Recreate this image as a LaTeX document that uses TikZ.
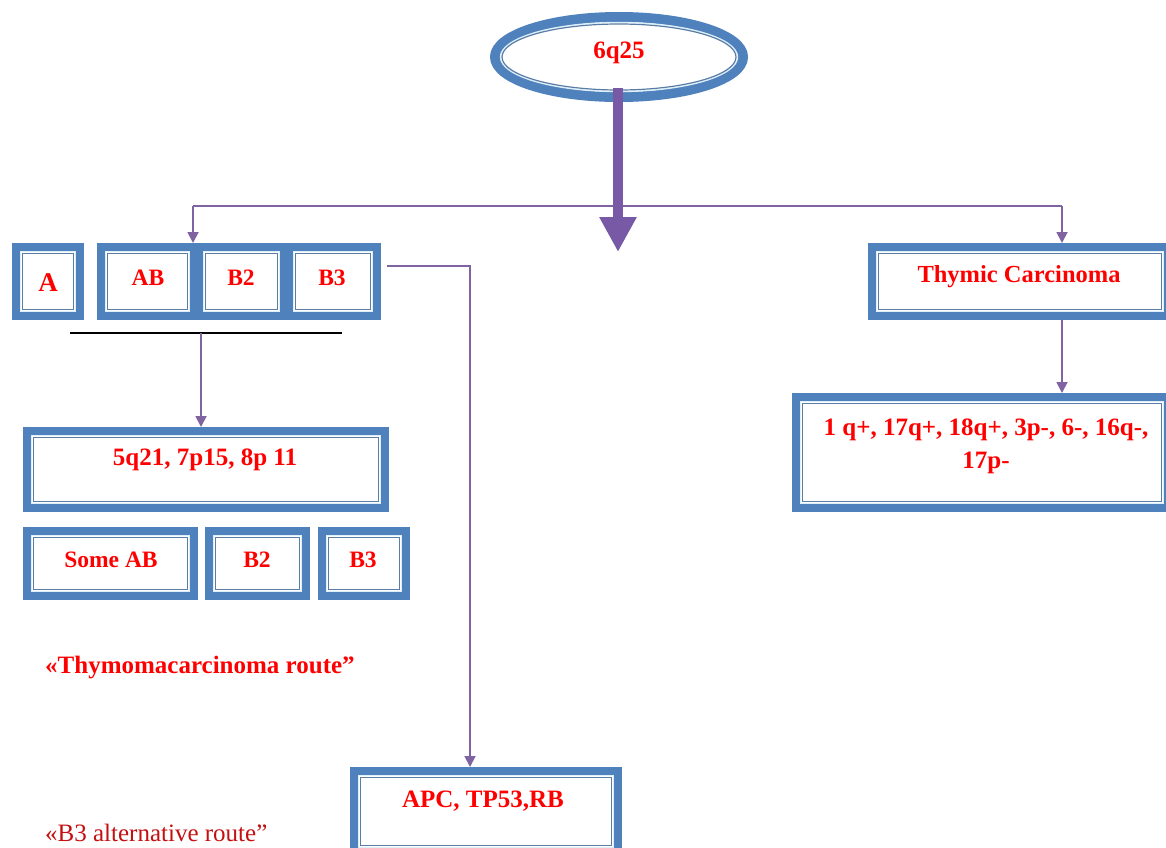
\documentclass[tikz,border=0pt]{standalone}
\usepackage{fontspec}
\setmainfont{Liberation Serif}
\usetikzlibrary{arrows.meta,shapes.geometric,calc}
\definecolor{frameblue}{HTML}{4F81BD}
\definecolor{innercol}{HTML}{5A7DA6}
\definecolor{gapcol}{HTML}{DDF0FA}
\definecolor{arrowpurple}{HTML}{8064A2}
\definecolor{thickpurple}{HTML}{7859A6}
\definecolor{txtred}{HTML}{FF0000}
\definecolor{darkred}{HTML}{C41010}
\tikzset{
  framebox/.style={rectangle, draw=frameblue, line width=8pt, fill=white, inner sep=0pt},
  innerl/.style={draw=innercol, line width=1.4pt},
  gapl/.style={draw=gapcol, line width=1.6pt},
  lbl/.style={text=txtred, font=\bfseries\fontsize{25}{29}\selectfont, inner sep=0pt},
  lblsm/.style={lbl, font=\bfseries\fontsize{23.5}{27}\selectfont},
  conn/.style={draw=arrowpurple, line width=1.8pt},
  arr/.style={conn, -{Triangle[length=11pt,width=11pt]}},
}
\newcommand{\innerframe}[1]{%
  \draw[gapl] ([shift={(8.6pt,-8.6pt)}]#1.north west) rectangle ([shift={(-8.6pt,8.6pt)}]#1.south east);
  \draw[innerl] ([shift={(10.5pt,-10.5pt)}]#1.north west) rectangle ([shift={(-10.5pt,10.5pt)}]#1.south east);
}
\begin{document}
\begin{tikzpicture}[x=1pt,y=-1pt]
\useasboundingbox (0,0) rectangle (1166,847);
\clip (0,0) rectangle (1166,847);
\fill[white] (0,0) rectangle (1166,847);

% connectors (behind)
\coordinate (hl) at (193,206);
\coordinate (hr) at (1062,206);
\draw[conn] (hl) -- (hr);

% top ellipse
\node[ellipse, draw=frameblue, line width=10pt, fill=white, minimum width=248pt, minimum height=80pt, inner sep=0pt] (n6q) at (619,57) {};
\draw[gapl, line width=1.4pt] (n6q.center) ellipse [x radius=118.5pt, y radius=34.5pt];
\draw[innerl, line width=1.2pt] (n6q.center) ellipse [x radius=117pt, y radius=33pt];
\node[lbl] (t6q) at (619,53) {6q25};

% thick arrow
\coordinate (tip) at (618,252);
\draw[thickpurple, line width=10pt, -{Triangle[length=35pt,width=35pt]}] ($(n6q.center)+(-1,31)$) -- (tip);

% first row boxes
\node[framebox, minimum width=64pt, minimum height=69pt] (nA) at (48,281.5) {};
\node[framebox, minimum width=93pt, minimum height=69pt] (nAB) at (147.5,281.5) {};
\node[framebox, minimum width=85pt, minimum height=69pt] (nB2) at (241.5,281.5) {};
\node[framebox, minimum width=88pt, minimum height=69pt] (nB3) at (333,281.5) {};
\foreach \n in {nA,nAB,nB2,nB3} {\innerframe{\n}}
\node[lbl, font=\bfseries\fontsize{27}{30}\selectfont] (tA) at (48,283) {A};
\node[lblsm] (tAB) at (148,278) {AB};
\node[lblsm] (tB2) at (241,278) {B2};
\node[lblsm] (tB3) at (332,278) {B3};

% thymic carcinoma
\node[framebox, minimum width=296pt, minimum height=69pt] (nTC) at (1020,281.5) {};
\innerframe{nTC}
\node[lbl, font=\bfseries\fontsize{24.5}{28}\selectfont] (tTC) at (1019,277) {Thymic Carcinoma};

\draw[arr] (hl) -- (hl |- nAB.north);
\draw[arr] (hr) -- (hr |- nTC.north);

% black line
\coordinate (bl1) at (70,333);
\coordinate (bl2) at (342,333);
\coordinate (bm) at (201,333);
\draw[black, line width=1.5pt] (bl1) -- (bl2);

% 5q21 box
\node[framebox, minimum width=358pt, minimum height=77pt] (n5q) at (206,469.5) {};
\innerframe{n5q}
\node[lbl] (t5q) at (205,460) {5q21, 7p15, 8p 11};
\draw[arr] (bm) -- (bm |- n5q.north);

% second row
\node[framebox, minimum width=167pt, minimum height=65pt] (nSAB) at (110.5,563.5) {};
\node[framebox, minimum width=97pt, minimum height=65pt] (nB2b) at (257.5,563.5) {};
\node[framebox, minimum width=84pt, minimum height=65pt] (nB3b) at (364,563.5) {};
\foreach \n in {nSAB,nB2b,nB3b} {\innerframe{\n}}
\node[lblsm] (tSAB) at (111,560) {Some AB};
\node[lblsm] (tB2b) at (257,560) {B2};
\node[lblsm] (tB3b) at (363,560) {B3};

% route texts
\node[lbl, anchor=west] (tRoute1) at (45,668) {«Thymomacarcinoma route”};
\node[text=darkred, font=\fontsize{25}{29}\selectfont, inner sep=0pt, anchor=west] (tRoute2) at (45,833) {«B3 alternative route”};

% APC box
\node[framebox, minimum width=264pt, minimum height=81pt] (nAPC) at (486,811.5) {};
\innerframe{nAPC}
\node[lbl] (tAPC) at (483,801) {APC, TP53,RB};

\coordinate (b3r) at (387,266);
\coordinate (b3c) at (470,266);
\draw[arr] (b3r) -- (b3c) -- (b3c |- nAPC.north);

% chromosome box
\node[framebox, minimum width=372pt, minimum height=111pt] (nChr) at (982,452.5) {};
\innerframe{nChr}
\node[lbl, font=\bfseries\fontsize{25}{33}\selectfont, align=center] (tChr) at (986,446) {1 q+, 17q+, 18q+, 3p-, 6-, 16q-,\\17p-};
\draw[arr] (hr |- nTC.south) -- (hr |- nChr.north);
\end{tikzpicture}
\end{document}
